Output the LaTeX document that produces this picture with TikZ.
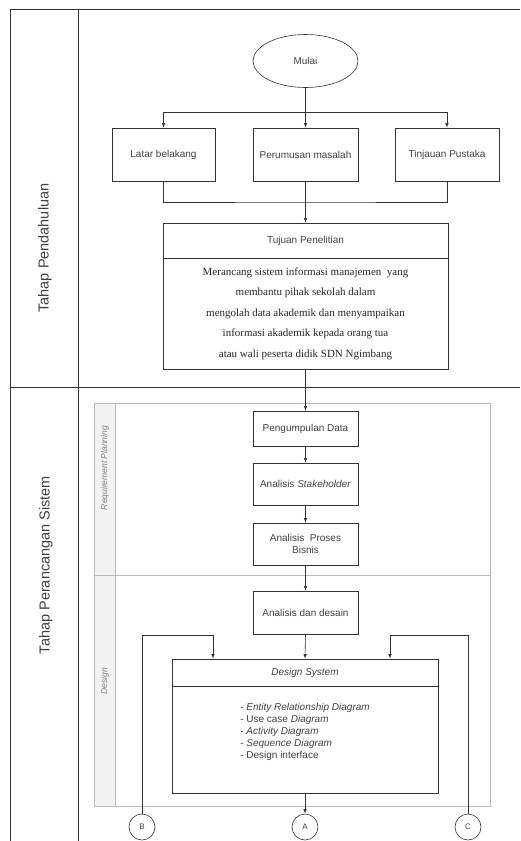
\documentclass[tikz,border=0pt]{standalone}
\usepackage{fontspec}
\setmainfont{Liberation Sans}
\newfontfamily\bodyserif{Liberation Serif}
\usetikzlibrary{arrows.meta,shapes.geometric}

\begin{document}
\begin{tikzpicture}[x=1pt,y=-1pt,
    line width=0.6pt,
    frameline/.style={black!80},
    poolline/.style={gray!55},
    stepbox/.style={rectangle,draw=black!80,text=black!75,font=\fontsize{10}{12}\selectfont,align=center,inner sep=2pt},
    startnode/.style={ellipse,draw=black!80,text=black!75,font=\fontsize{10}{12}\selectfont,minimum width=105pt,minimum height=53pt,inner sep=0pt},
    connnode/.style={circle,draw=black!80,text=black!75,font=\fontsize{8}{10}\selectfont,minimum size=26pt,inner sep=0pt},
    lanelabel/.style={rotate=90,text=black!75,font=\fontsize{14.5}{16}\selectfont},
    sublabel/.style={rotate=90,text=gray,font=\fontsize{8.5}{10}\selectfont\itshape},
    flow/.style={draw=black!80,-{latex}}]

    \useasboundingbox (0,0) rectangle (520,841);

    % swimlane frame
    \draw[frameline] (520,9) -- (10,9) -- (10,841);
    \draw[frameline] (78,9) -- (78,841);
    \draw[frameline] (10,387) -- (520,387);
    \node[lanelabel] (laneA) at (45,248) {Tahap Pendahuluan};
    \node[lanelabel] (laneB) at (46,565) {Tahap Perancangan Sistem};

    % pool tahap perancangan
    \draw[poolline,fill=gray!10] (94,403) rectangle (115,806);
    \draw[poolline] (94,403) rectangle (490,806);
    \draw[poolline] (94,575) -- (490,575);
    \node[sublabel] (laneReq) at (105,468) {Requirement Planning};
    \node[sublabel] (laneDes) at (105,681) {Design};

    % tahap pendahuluan
    \node[startnode] (mulai) at (305.5,61) {Mulai};
    \node[stepbox,minimum width=103pt,minimum height=53pt] (latar) at (163.5,154.5) {Latar belakang};
    \node[stepbox,minimum width=105pt,minimum height=53pt] (rumusan) at (305.5,154.5) {Perumusan masalah};
    \node[stepbox,minimum width=104pt,minimum height=53pt] (tinjauan) at (447,154.5) {Tinjauan Pustaka};
    \node[stepbox,minimum width=285pt,minimum height=35pt] (tujuanHead) at (305.5,240.5) {Tujuan Penelitian};
    \node[stepbox,minimum width=285pt,minimum height=111pt,font=\bodyserif\fontsize{11}{20.5}\selectfont,text=black!85] (tujuanBody) at (305.5,313.5)
        {Merancang sistem informasi manajemen\ \ yang\\ membantu pihak sekolah dalam\\ mengolah data akademik dan menyampaikan\\ informasi akademik kepada orang tua\\ atau wali peserta didik SDN Ngimbang};

    \coordinate (split) at (305.5,112);
    \coordinate (join) at (305.5,202);
    \draw[frameline] (mulai.south) -- (split); % mulai -> cabang
    \draw[flow] (split) -- (rumusan.north); % -> perumusan
    \draw[flow] (split) -| (latar.north); % -> latar belakang
    \draw[flow] (split) -| (tinjauan.north); % -> tinjauan pustaka
    \draw[frameline] (latar.south) |- (join) -| (tinjauan.south); % gabung
    \draw[flow] (rumusan.south) -- (tujuanHead.north); % -> tujuan

    % requirement planning
    \node[stepbox,minimum width=105pt,minimum height=35pt] (kumpul) at (305.5,428.5) {Pengumpulan Data};
    \node[stepbox,minimum width=105pt,minimum height=42pt] (stake) at (305.5,484) {Analisis \textit{Stakeholder}};
    \node[stepbox,minimum width=105pt,minimum height=42pt] (bisnis) at (305.5,544) {Analisis\ \ Proses\\ Bisnis};

    \draw[flow] (tujuanBody.south) -- (kumpul.north);
    \draw[flow] (kumpul.south) -- (stake.north);
    \draw[flow] (stake.south) -- (bisnis.north);

    % design
    \node[stepbox,minimum width=105pt,minimum height=43pt] (desain) at (305.5,612.5) {Analisis dan desain};
    \node[stepbox,minimum width=266pt,minimum height=27pt,font=\fontsize{10}{12}\selectfont\itshape] (dsysHead) at (305,672.5) {Design System};
    \node[stepbox,minimum width=266pt,minimum height=107pt,align=left] (dsysBody) at (305,739.5)
        {\raisebox{0pt}[0pt][0pt]{}- \textit{Entity Relationship Diagram}\\- Use case \textit{Diagram}\\- \textit{Activity Diagram}\\- \textit{Sequence Diagram}\\- Design interface\\[6pt]};

    \draw[flow] (bisnis.south) -- (desain.north);
    \draw[flow] (desain.south) -- (dsysHead.north);

    % konektor halaman
    \node[connnode] (cB) at (142,827) {B};
    \node[connnode] (cA) at (305,827) {A};
    \node[connnode] (cC) at (468,827) {C};
    \coordinate (turnB) at (213,635);
    \coordinate (turnC) at (390,635);

    \draw[flow] (cB.north) |- (turnB) -- (turnB |- dsysHead.north); % B -> design system
    \draw[flow] (cC.north) |- (turnC) -- (turnC |- dsysHead.north); % C -> design system
    \draw[flow] (dsysBody.south) -- (cA.north); % design system -> A

\end{tikzpicture}
\end{document}
